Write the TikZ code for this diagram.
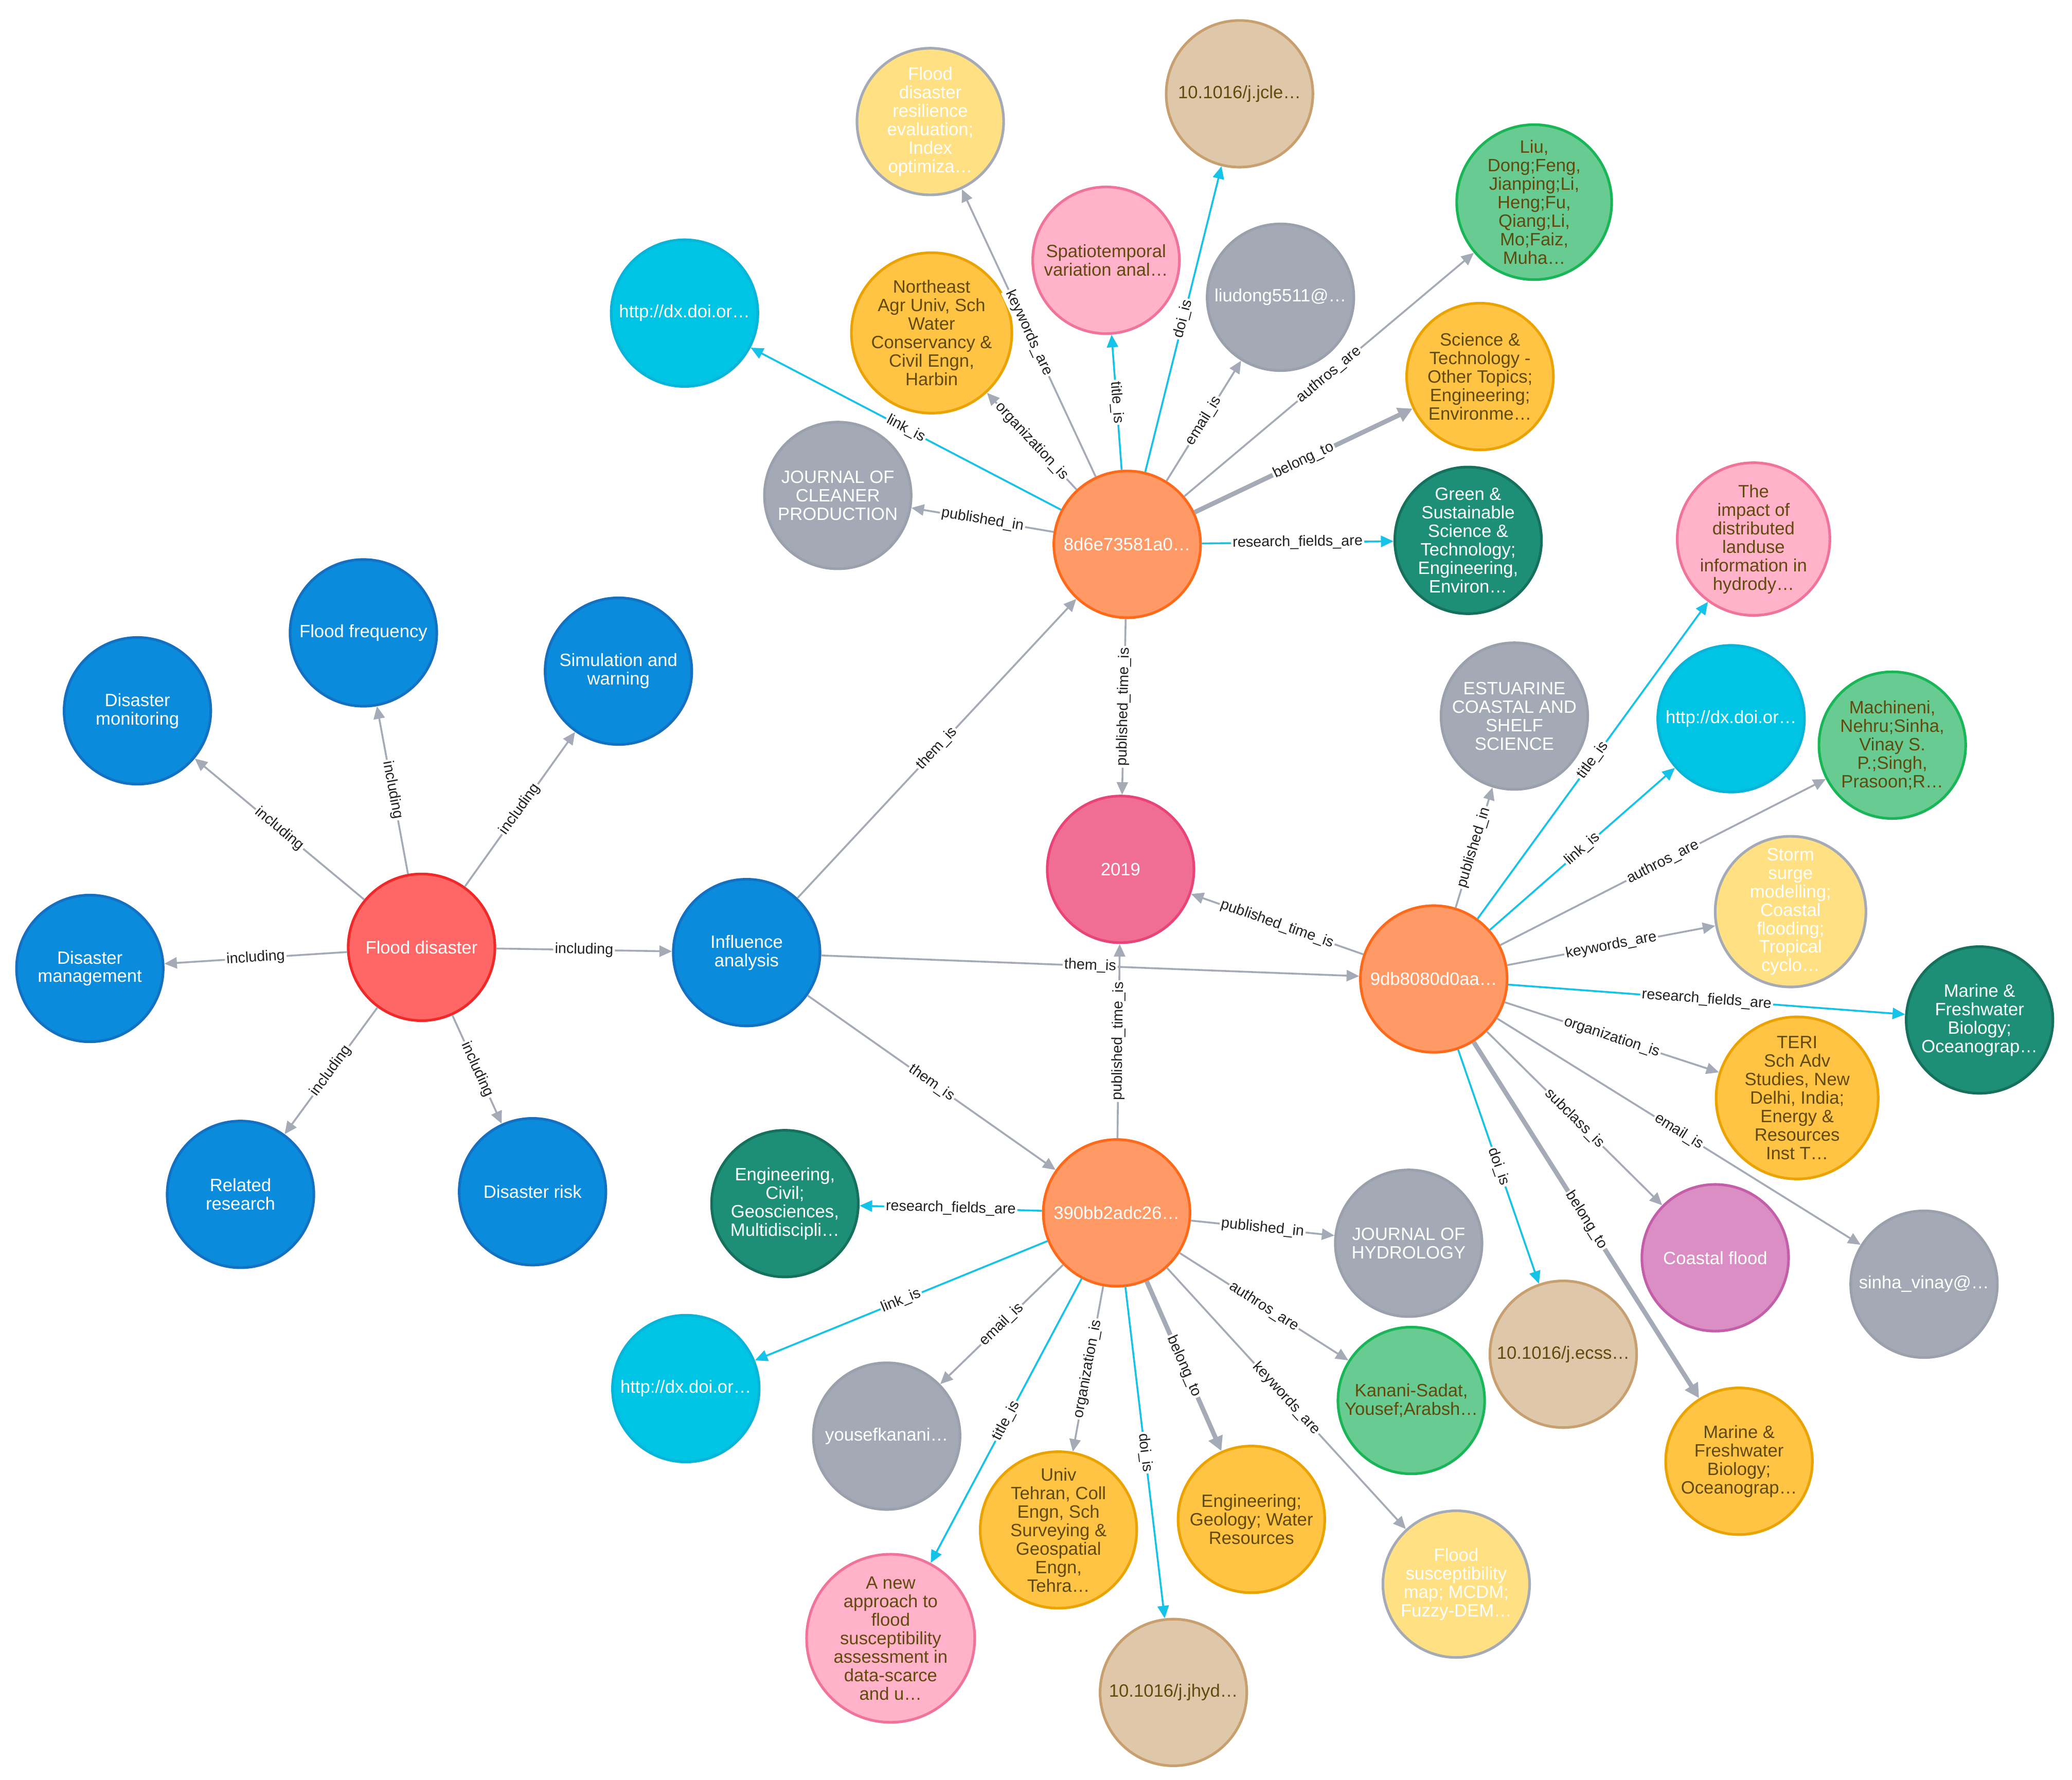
\documentclass[tikz,border=0pt]{standalone}
\usepackage{fontspec}
\setmainfont{Liberation Sans}
\usetikzlibrary{arrows.meta}
\definecolor{blueF}{HTML}{0A8BDB}\definecolor{blueD}{HTML}{1470C0}
\definecolor{redF}{HTML}{FF6666}\definecolor{redD}{HTML}{F02828}
\definecolor{orgF}{HTML}{FF9966}\definecolor{orgD}{HTML}{FF6A1A}
\definecolor{yrF}{HTML}{F06E94}\definecolor{yrD}{HTML}{E84478}
\definecolor{grayF}{HTML}{A3AAB6}\definecolor{grayD}{HTML}{9AA1AC}
\definecolor{yelF}{HTML}{FFE082}\definecolor{yelD}{HTML}{A5ABB6}
\definecolor{oyF}{HTML}{FFC444}\definecolor{oyD}{HTML}{EAA300}
\definecolor{tanF}{HTML}{DFC8AA}\definecolor{tanD}{HTML}{C8A070}
\definecolor{grnF}{HTML}{68CC92}\definecolor{grnD}{HTML}{18B656}
\definecolor{tealF}{HTML}{1D8F76}\definecolor{tealD}{HTML}{16705E}
\definecolor{pinkF}{HTML}{FFB2CA}\definecolor{pinkD}{HTML}{F07399}
\definecolor{cyanF}{HTML}{00C4E3}\definecolor{cyanD}{HTML}{08B4D8}
\definecolor{magF}{HTML}{DA8EC3}\definecolor{magD}{HTML}{C35EA9}
\definecolor{edgeG}{HTML}{A5ABB6}\definecolor{edgeC}{HTML}{16C3E8}
\definecolor{txtB}{HTML}{604A0E}\definecolor{labT}{HTML}{222222}
\tikzset{
  nd/.style={circle, minimum size=111pt, inner sep=0pt, line width=2pt, align=center,
    font=\fontsize{13.5}{14}\selectfont},
  blueN/.style={nd, fill=blueF, draw=blueD, text=white},
  redN/.style={nd, fill=redF, draw=redD, text=white},
  paperN/.style={nd, fill=orgF, draw=orgD, text=white},
  yearN/.style={nd, fill=yrF, draw=yrD, text=white},
  grayN/.style={nd, fill=grayF, draw=grayD, text=white},
  kwN/.style={nd, fill=yelF, draw=yelD, text=white},
  orgN/.style={nd, fill=oyF, draw=oyD, text=txtB},
  doiN/.style={nd, fill=tanF, draw=tanD, text=txtB},
  authN/.style={nd, fill=grnF, draw=grnD, text=txtB},
  fieldN/.style={nd, fill=tealF, draw=tealD, text=white},
  titleN/.style={nd, fill=pinkF, draw=pinkD, text=txtB},
  linkN/.style={nd, fill=cyanF, draw=cyanD, text=white},
  subN/.style={nd, fill=magF, draw=magD, text=white},
  rel/.style={draw=edgeG, line width=1.4pt, -{Triangle[length=9.5pt,width=8.5pt]}},
  relc/.style={rel, draw=edgeC},
  relb/.style={draw=edgeG, line width=3.5pt, -{Triangle[length=11pt,width=11pt]}},
  lab/.style={midway, sloped, fill=white, inner sep=1.2pt, text=labT,
    font=\fontsize{11.2}{12}\selectfont},
}
\begin{document}
\begin{tikzpicture}[x=1pt,y=-1pt]
\fill[white] (0,0) rectangle (1568,1347);
\useasboundingbox (0,0) rectangle (1568,1347);
% left cluster
\node[blueN] (dmon) at (104,538) {Disaster\\monitoring};
\node[blueN] (ffreq) at (275,479) {Flood frequency};
\node[blueN] (sim) at (468,508) {Simulation and\\warning};
\node[blueN] (dman) at (68,733) {Disaster\\management};
\node[redN] (fd) at (319,717) {Flood disaster};
\node[blueN] (rr) at (182,904) {Related\\research};
\node[blueN] (drisk) at (403,902) {Disaster risk};
\node[blueN] (ia) at (565,721) {Influence\\analysis};
% papers
\node[paperN] (pa) at (853,412) {8d6e73581a0…};
\node[yearN] (yr) at (848,658) {2019};
\node[paperN] (pb) at (1085,741) {9db8080d0aa…};
\node[paperN] (pc) at (845,918) {390bb2adc26…};
% top cluster
\node[kwN] (akw) at (704,92) {Flood\\disaster\\resilience\\evaluation;\\Index\\optimiza…};
\node[doiN] (adoi) at (938,71) {10.1016/j.jcle…};
\node[authN] (aau) at (1161,153) {Liu,\\Dong;Feng,\\Jianping;Li,\\Heng;Fu,\\Qiang;Li,\\Mo;Faiz,\\Muha…};
\node[linkN] (alink) at (518,237) {http://dx.doi.or…};
\node[titleN] (atit) at (837,197) {Spatiotemporal\\variation anal…};
\node[orgN] (aorg) at (705,252) {Northeast\\Agr Univ, Sch\\Water\\Conservancy \&\\Civil Engn,\\Harbin};
\node[grayN] (amail) at (969,225) {liudong5511@…};
\node[orgN] (abel) at (1120,285) {Science \&\\Technology -\\Other Topics;\\Engineering;\\Environme…};
\node[grayN] (ajour) at (634,375) {JOURNAL OF\\CLEANER\\PRODUCTION};
\node[fieldN] (afld) at (1111,409) {Green \&\\Sustainable\\Science \&\\Technology;\\Engineering,\\Environ…};
% right cluster
\node[titleN] (btit) at (1327,408) {The\\impact of\\distributed\\landuse\\information in\\hydrody…};
\node[grayN] (bjour) at (1146,542) {ESTUARINE\\COASTAL AND\\SHELF\\SCIENCE};
\node[linkN] (blink) at (1310,544) {http://dx.doi.or…};
\node[authN] (bau) at (1432,564) {Machineni,\\Nehru;Sinha,\\Vinay S.\\P.;Singh,\\Prasoon;R…};
\node[kwN] (bkw) at (1355,690) {Storm\\surge\\modelling;\\Coastal\\flooding;\\Tropical\\cyclo…};
\node[fieldN] (bfld) at (1498,772) {Marine \&\\Freshwater\\Biology;\\Oceanograp…};
\node[orgN] (borg) at (1360,831) {TERI\\Sch Adv\\Studies, New\\Delhi, India;\\Energy \&\\Resources\\Inst T…};
\node[subN] (bsub) at (1298,952) {Coastal flood};
\node[grayN] (bmail) at (1456,972) {sinha\_vinay@…};
\node[doiN] (bdoi) at (1183,1025) {10.1016/j.ecss…};
\node[orgN] (bbel) at (1316,1106) {Marine \&\\Freshwater\\Biology;\\Oceanograp…};
% bottom cluster
\node[fieldN] (cfld) at (594,911) {Engineering,\\Civil;\\Geosciences,\\Multidiscipli…};
\node[grayN] (cjour) at (1066,941) {JOURNAL OF\\HYDROLOGY};
\node[linkN] (clink) at (519,1051) {http://dx.doi.or…};
\node[grayN] (cmail) at (671,1087) {yousefkanani…};
\node[authN] (cau) at (1068,1060) {Kanani-Sadat,\\Yousef;Arabsh…};
\node[orgN] (corg) at (801,1158) {Univ\\Tehran, Coll\\Engn, Sch\\Surveying \&\\Geospatial\\Engn,\\Tehra…};
\node[orgN] (cbel) at (947,1150) {Engineering;\\Geology; Water\\Resources};
\node[kwN] (ckw) at (1102,1199) {Flood\\susceptibility\\map; MCDM;\\Fuzzy-DEM…};
\node[titleN] (ctit) at (674,1240) {A new\\approach to\\flood\\susceptibility\\assessment in\\data-scarce\\and u…};
\node[doiN] (cdoi) at (888,1281) {10.1016/j.jhyd…};
% edges: flood disaster
\draw[rel] (fd) -- node[lab]{including} (dmon);
\draw[rel] (fd) -- node[lab]{including} (ffreq);
\draw[rel] (fd) -- node[lab]{including} (sim);
\draw[rel] (fd) -- node[lab]{including} (dman);
\draw[rel] (fd) -- node[lab]{including} (rr);
\draw[rel] (fd) -- node[lab]{including} (drisk);
\draw[rel] (fd) -- node[lab]{including} (ia);
\draw[rel] (ia) -- node[lab]{them\_is} (pa);
\draw[rel] (ia) -- node[lab]{them\_is} (pb);
\draw[rel] (ia) -- node[lab]{them\_is} (pc);
\draw[rel] (pa) -- node[lab]{published\_time\_is} (yr);
\draw[rel] (pb) -- node[lab]{published\_time\_is} (yr);
\draw[rel] (pc) -- node[lab]{published\_time\_is} (yr);
% paper a
\draw[rel] (pa) -- node[lab]{published\_in} (ajour);
\draw[relc] (pa) -- node[lab]{link\_is} (alink);
\draw[rel] (pa) -- node[lab]{organization\_is} (aorg);
\draw[rel] (pa) -- node[lab]{keywords\_are} (akw);
\draw[relc] (pa) -- node[lab]{title\_is} (atit);
\draw[relc] (pa) -- node[lab]{doi\_is} (adoi);
\draw[rel] (pa) -- node[lab]{email\_is} (amail);
\draw[rel] (pa) -- node[lab]{authros\_are} (aau);
\draw[relb] (pa) -- node[lab]{belong\_to} (abel);
\draw[relc] (pa) -- node[lab]{research\_fields\_are} (afld);
% paper b
\draw[rel] (pb) -- node[lab]{published\_in} (bjour);
\draw[relc] (pb) -- node[lab]{title\_is} (btit);
\draw[relc] (pb) -- node[lab]{link\_is} (blink);
\draw[rel] (pb) -- node[lab]{authros\_are} (bau);
\draw[rel] (pb) -- node[lab]{keywords\_are} (bkw);
\draw[relc] (pb) -- node[lab]{research\_fields\_are} (bfld);
\draw[rel] (pb) -- node[lab]{organization\_is} (borg);
\draw[rel] (pb) -- node[lab]{email\_is} (bmail);
\draw[rel] (pb) -- node[lab]{subclass\_is} (bsub);
\draw[relb] (pb) -- node[lab]{belong\_to} (bbel);
\draw[relc] (pb) -- node[lab]{doi\_is} (bdoi);
% paper c
\draw[relc] (pc) -- node[lab]{research\_fields\_are} (cfld);
\draw[rel] (pc) -- node[lab]{published\_in} (cjour);
\draw[relc] (pc) -- node[lab]{link\_is} (clink);
\draw[rel] (pc) -- node[lab]{email\_is} (cmail);
\draw[relc] (pc) -- node[lab]{title\_is} (ctit);
\draw[rel] (pc) -- node[lab]{organization\_is} (corg);
\draw[relc] (pc) -- node[lab]{doi\_is} (cdoi);
\draw[relb] (pc) -- node[lab]{belong\_to} (cbel);
\draw[rel] (pc) -- node[lab]{keywords\_are} (ckw);
\draw[rel] (pc) -- node[lab]{authros\_are} (cau);
\end{tikzpicture}
\end{document}
